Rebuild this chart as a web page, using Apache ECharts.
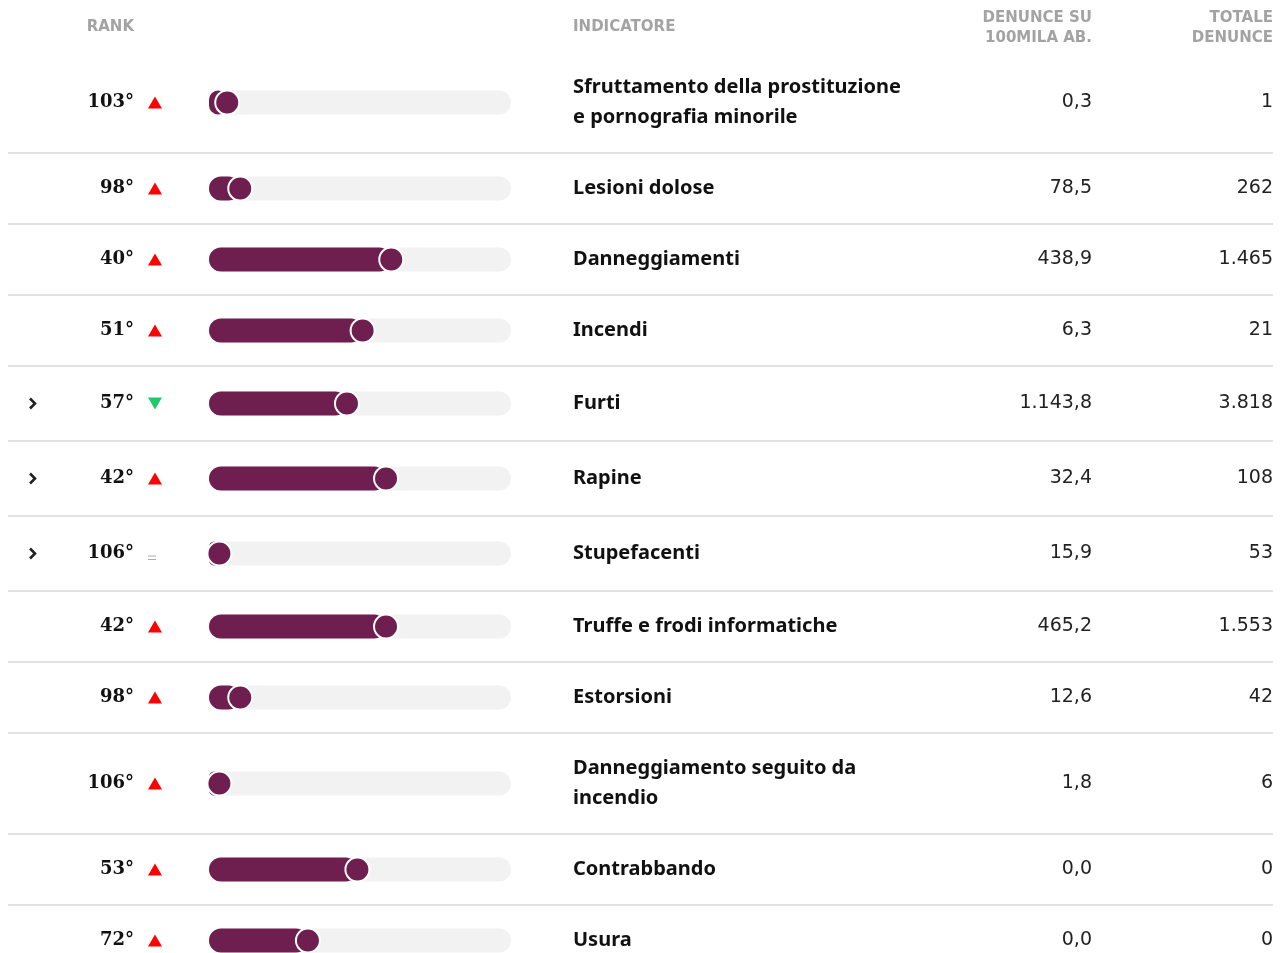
<!DOCTYPE html>
<html>
<head>
<meta charset="utf-8">
<script src="https://cdn.jsdelivr.net/npm/echarts@6/dist/echarts.min.js"></script>
<style>
  html, body { margin: 0; padding: 0; background: #ffffff; }
  #chart { width: 1285px; height: 953px; }
</style>
</head>
<body>
<div id="chart"></div>
<script>
// ---- Data ----
const indicatori = [
  'Sfruttamento della prostituzione\ne pornografia minorile',
  'Lesioni dolose',
  'Danneggiamenti',
  'Incendi',
  'Furti',
  'Rapine',
  'Stupefacenti',
  'Truffe e frodi informatiche',
  'Estorsioni',
  'Danneggiamento seguito da\nincendio',
  'Contrabbando',
  'Usura'
];
const rank = [103, 98, 40, 51, 57, 42, 106, 42, 98, 106, 53, 72];
const trend = ['up', 'up', 'up', 'up', 'down', 'up', 'same', 'up', 'up', 'up', 'up', 'up'];
const denunceSu100mila = [0.3, 78.5, 438.9, 6.3, 1143.8, 32.4, 15.9, 465.2, 12.6, 1.8, 0.0, 0.0];
const totaleDenunce = [1, 262, 1465, 21, 3818, 108, 53, 1553, 42, 6, 0, 0];
const espandibile = [false, false, false, false, true, true, true, false, false, false, false, false];
const headerRank = 'RANK';
const headerIndicatore = 'INDICATORE';
const headerTasso = 'DENUNCE SU\n100MILA AB.';
const headerTotale = 'TOTALE\nDENUNCE';

// ---- Layout ----
const WIDTH = 1285, HEIGHT = 953;
const HEADER_H = 52;
const ROW_BASE = 71, ROW_EXPAND_EXTRA = 4, LINE_EXTRA = 30;
const AXIS_MIN = -6, AXIS_MAX = 110;   // rank scale of the track (inverted)
const BAR_H = 24, DOT_R = 12;
const PURPLE = '#6e1f50';
const TRACK = '#f2f2f2';

const rowTop = [], rowH = [], rowCenter = [];
let cursor = HEADER_H;
indicatori.forEach((name, i) => {
  const lines = name.split('\n').length;
  const h = ROW_BASE + (espandibile[i] ? ROW_EXPAND_EXTRA : 0) + (lines - 1) * LINE_EXTRA;
  rowTop.push(cursor);
  rowH.push(h);
  rowCenter.push(cursor + h / 2);
  cursor += h;
});

// Italian number formatting: thousands '.', decimals ','
function fmt(v, dec) {
  const s = v.toFixed(dec);
  const parts = s.split('.');
  const intPart = parts[0].replace(/\B(?=(\d{3})+(?!\d))/g, '.');
  return parts.length > 1 ? intPart + ',' + parts[1] : intPart;
}

const COL_CHEVRON = 33, COL_RANK = 134, COL_TREND = 155;
const COL_NAME = 573, COL_TASSO = 1092, COL_TOTALE = 1273;
const LINE_L = 8, LINE_R = 1273;

function renderRow(params, api) {
  const i = params.dataIndex;
  const p = api.coord([api.value(0), api.value(1)]);
  const xr = p[0], y = p[1];
  const x0 = api.coord([AXIS_MAX, api.value(1)])[0];
  const x1 = api.coord([AXIS_MIN, api.value(1)])[0];
  const children = [];

  // separator below the row
  const yb = rowTop[i] + rowH[i];
  children.push({
    type: 'line',
    shape: { x1: LINE_L, y1: yb, x2: LINE_R, y2: yb },
    style: { stroke: '#e2e2e2', lineWidth: 2 }
  });

  // track, fill and marker
  children.push({
    type: 'rect',
    shape: { x: x0, y: y - BAR_H / 2, width: x1 - x0, height: BAR_H, r: BAR_H / 2 },
    style: { fill: TRACK }
  });
  children.push({
    type: 'rect',
    shape: { x: x0, y: y - BAR_H / 2, width: Math.max(xr - x0, 0), height: BAR_H, r: BAR_H / 2 },
    style: { fill: PURPLE }
  });
  children.push({
    type: 'circle',
    shape: { cx: xr, cy: y, r: DOT_R },
    style: { fill: PURPLE, stroke: '#ffffff', lineWidth: 2 }
  });

  // expand chevron
  if (espandibile[i]) {
    children.push({
      type: 'polyline',
      shape: { points: [[COL_CHEVRON - 3, y - 5], [COL_CHEVRON + 2, y], [COL_CHEVRON - 3, y + 5]] },
      style: { stroke: '#222', lineWidth: 2.6, fill: null }
    });
  }

  // rank label
  children.push({
    type: 'text',
    style: {
      x: COL_RANK, y: y, text: api.value(0) + '°',
      fill: '#111', font: 'bold 18px "DejaVu Serif"',
      align: 'right', verticalAlign: 'middle'
    }
  });

  // trend marker
  if (trend[i] === 'up') {
    children.push({
      type: 'polygon',
      shape: { points: [[COL_TREND - 7, y + 6], [COL_TREND + 7, y + 6], [COL_TREND, y - 6]] },
      style: { fill: '#ff0000' }
    });
  } else if (trend[i] === 'down') {
    children.push({
      type: 'polygon',
      shape: { points: [[COL_TREND - 7, y - 6], [COL_TREND + 7, y - 6], [COL_TREND, y + 6]] },
      style: { fill: '#1fc96c' }
    });
  } else {
    children.push({
      type: 'line',
      shape: { x1: COL_TREND - 7, y1: y + 2.5, x2: COL_TREND + 1, y2: y + 2.5 },
      style: { stroke: '#aaaaaa', lineWidth: 1 }
    });
    children.push({
      type: 'line',
      shape: { x1: COL_TREND - 7, y1: y + 6, x2: COL_TREND + 1, y2: y + 6 },
      style: { stroke: '#aaaaaa', lineWidth: 1 }
    });
  }

  // indicator name
  children.push({
    type: 'text',
    style: {
      x: COL_NAME, y: y, text: indicatori[i],
      fill: '#111', font: 'bold 20px "Noto Sans"', lineHeight: LINE_EXTRA,
      align: 'left', verticalAlign: 'middle'
    }
  });

  // values
  children.push({
    type: 'text',
    style: {
      x: COL_TASSO, y: y, text: fmt(denunceSu100mila[i], 1),
      fill: '#222', font: '19px "DejaVu Sans"',
      align: 'right', verticalAlign: 'middle'
    }
  });
  children.push({
    type: 'text',
    style: {
      x: COL_TOTALE, y: y, text: fmt(totaleDenunce[i], 0),
      fill: '#222', font: '19px "DejaVu Sans"',
      align: 'right', verticalAlign: 'middle'
    }
  });

  return { type: 'group', children: children };
}

const headerFont = 'bold 15px "DejaVu Sans"';
const headerColor = '#a3a3a3';

const chart = echarts.init(document.getElementById('chart'), null, { renderer: 'canvas' });
chart.setOption({
  backgroundColor: '#ffffff',
  animation: false,
  grid: { left: 209, width: 302, top: 0, height: HEIGHT },
  xAxis: { type: 'value', inverse: true, min: AXIS_MIN, max: AXIS_MAX, show: false },
  yAxis: { type: 'value', inverse: true, min: 0, max: HEIGHT, show: false },
  graphic: [
    { type: 'text', style: { x: COL_RANK, y: 27, text: headerRank, fill: headerColor, font: headerFont, align: 'right', verticalAlign: 'middle' } },
    { type: 'text', style: { x: COL_NAME, y: 27, text: headerIndicatore, fill: headerColor, font: headerFont, align: 'left', verticalAlign: 'middle' } },
    { type: 'text', style: { x: COL_TASSO, y: 28, text: headerTasso, fill: headerColor, font: headerFont, lineHeight: 20, align: 'right', verticalAlign: 'middle' } },
    { type: 'text', style: { x: COL_TOTALE, y: 28, text: headerTotale, fill: headerColor, font: headerFont, lineHeight: 20, align: 'right', verticalAlign: 'middle' } }
  ],
  series: [{
    type: 'custom',
    clip: false,
    coordinateSystem: 'cartesian2d',
    renderItem: renderRow,
    encode: { x: 0, y: 1 },
    data: rank.map((r, i) => [r, rowCenter[i]])
  }]
});
</script>
</body>
</html>
